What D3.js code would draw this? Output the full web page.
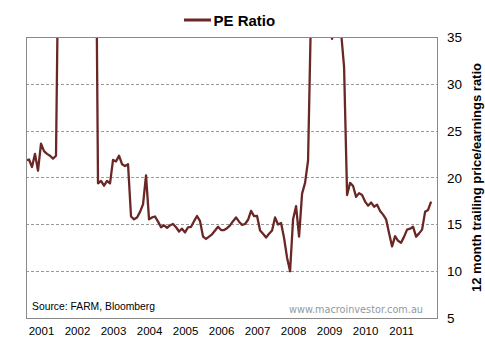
<!DOCTYPE html>
<html><head><meta charset="utf-8">
<script src="https://cdn.jsdelivr.net/npm/d3@7"></script>
<style>body{margin:0;background:#fff}svg{display:block}</style>
</head><body>
<script>
// Monthly PE ratio, Aug 2000 .. Nov 2011 (values above 35 are off-chart estimates)
const startYear = 2000, startMonth = 8;
const peRatio = [
 21.8,21.9,21.1,22.5,20.7,23.6,22.8,22.5,22.3,22.0,22.3,
 50,58,65,72,80,75,70,66,62,60,64,62,60,
 19.35,19.6,19.1,19.6,19.35,21.85,21.7,22.3,21.4,21.2,21.4,
 15.8,15.5,15.7,16.3,17.1,20.2,15.5,15.7,15.8,15.25,14.65,14.86,14.6,14.86,15.0,
 14.65,14.2,14.5,14.1,14.65,14.7,15.3,15.86,15.3,13.65,13.4,13.65,13.9,14.3,14.7,
 14.35,14.36,14.55,14.85,15.3,15.7,15.25,14.9,15.0,15.45,16.4,15.85,15.86,14.3,13.95,
 13.55,13.95,14.3,15.7,14.95,15.1,13.5,11.4,9.95,15.5,16.9,13.65,18.25,19.4,21.8,
 38,42,45,48,44,40,38,34.8,38,40,35.5,31.8,
 18.1,19.4,19.06,17.9,18.3,18.1,17.4,16.96,17.3,16.85,17.06,16.4,16.0,15.5,14.0,
 12.6,13.7,13.2,13.0,13.65,14.4,14.5,14.7,13.65,14.0,14.4,16.3,16.5,17.4
];
const yearLabels = ["2001","2002","2003","2004","2005","2006","2007","2008","2009","2010","2011"];
const yTicks = [5,10,15,20,25,30,35];
const seriesName = "PE Ratio";
const yTitle = "12 month trailing price/earnings ratio";
const sourceText = "Source: FARM, Bloomberg";
const siteText = "www.macroinvestor.com.au";

const W = 485, H = 345;
const m = {left:26, right:438, top:37, bottom:317.5};
const svg = d3.select("body").append("svg").attr("width",W).attr("height",H);

const x = d3.scaleLinear().domain([0, 137.3]).range([m.left, m.right]);
const y = d3.scaleLinear().domain([5, 35]).range([m.bottom, m.top]);

// grid
svg.append("g").selectAll("line").data(yTicks.filter(d=>d>5&&d<35)).join("line")
  .attr("x1",m.left).attr("x2",m.right)
  .attr("y1",d=>Math.round(y(d))+0.5).attr("y2",d=>Math.round(y(d))+0.5)
  .attr("stroke","#9a9a9a").attr("stroke-width",1).attr("stroke-dasharray","3,2");

// right axis labels
const yAxis = d3.axisRight(y).tickValues(yTicks).tickSize(0).tickPadding(0);
const ga = svg.append("g").attr("transform",`translate(${m.right+9},0)`).call(yAxis);
ga.select(".domain").remove();
ga.selectAll("text").attr("font-family","Liberation Sans, Arial, sans-serif")
  .attr("font-size","13.5px").attr("fill","#000").attr("dy","0.36em");

// x labels (January of each year)
const xAxis = d3.axisBottom(x)
  .tickValues(yearLabels.map(yl => (+yl - startYear)*12 - (startMonth-1)))
  .tickFormat((d,i)=>yearLabels[i]).tickSize(0).tickPadding(0);
const gx = svg.append("g").attr("transform",`translate(0,${m.bottom+9})`).call(xAxis);
gx.select(".domain").remove();
gx.selectAll("text").attr("font-family","Liberation Sans, Arial, sans-serif")
  .attr("font-size","11.5px").attr("fill","#000").attr("dy","0.71em");

// clip
svg.append("clipPath").attr("id","clip").append("rect")
  .attr("x",m.left).attr("y",m.top).attr("width",m.right-m.left).attr("height",m.bottom-m.top);

const line = d3.line().x((d,i)=>x(i)).y(d=>y(d));
svg.append("path").datum(peRatio).attr("clip-path","url(#clip)")
  .attr("d",line).attr("fill","none").attr("stroke","#6b2626").attr("stroke-width",2.3)
  .attr("stroke-linejoin","round");

// plot border
svg.append("rect").attr("x",m.left+0.5).attr("y",Math.round(m.top)+0.5)
  .attr("width",m.right-m.left-1).attr("height",Math.round(m.bottom-m.top))
  .attr("fill","none").attr("stroke","#8a8a8a").attr("stroke-width",1);

// legend
svg.append("line").attr("x1",184).attr("x2",211).attr("y1",20).attr("y2",20)
  .attr("stroke","#6b2626").attr("stroke-width",3);
svg.append("text").attr("x",213.5).attr("y",25.5).text(seriesName)
  .attr("font-family","Liberation Sans, Arial, sans-serif").attr("font-weight","bold")
  .attr("font-size","15px").attr("fill","#000");

// y title
svg.append("text").attr("transform",`translate(481,177.5) rotate(-90)`)
  .attr("text-anchor","middle").text(yTitle)
  .attr("font-family","Liberation Sans, Arial, sans-serif").attr("font-weight","bold")
  .attr("font-size","12.5px").attr("fill","#000")
  .attr("textLength",229).attr("lengthAdjust","spacingAndGlyphs");

// source & site
svg.append("text").attr("x",32).attr("y",310).text(sourceText)
  .attr("font-family","Liberation Sans, Arial, sans-serif").attr("font-size","11.5px")
  .attr("fill","#000").attr("textLength",123).attr("lengthAdjust","spacingAndGlyphs");
svg.append("text").attr("x",289).attr("y",313).text(siteText)
  .attr("font-family","DejaVu Sans, sans-serif").attr("font-size","10px")
  .attr("fill","#8f9aa3").attr("textLength",134).attr("lengthAdjust","spacingAndGlyphs");
</script>
</body></html>
